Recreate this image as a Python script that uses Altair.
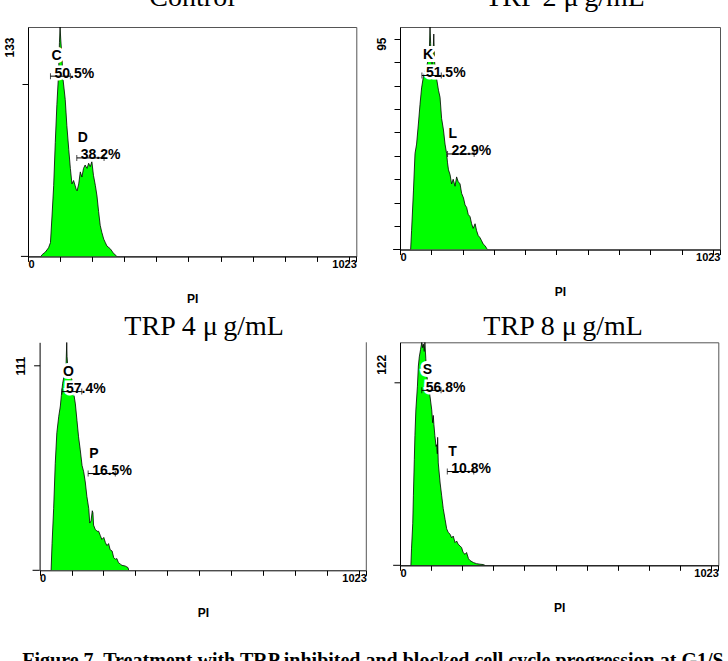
import altair as alt
import pandas as pd

# PI histograms: channel (0-1023) and cell count for each sample
ctrl_ch = [40, 44, 54, 64, 70, 75, 80, 85, 90, 95, 98, 100, 102, 106, 109, 116, 121, 127, 132, 137,
           142, 147, 150, 153, 158, 163, 168, 173, 178, 184, 189, 194, 199, 204, 210, 215, 220, 225, 230, 236,
           241, 246, 256, 262, 267, 272, 276]
ctrl_ct = [0, 1, 2.5, 5, 8, 24, 41, 66, 88, 105, 124, 133, 126, 115, 103, 91, 76, 62, 51, 42,
           44, 41, 39, 38, 42, 49, 46, 51, 53, 51, 54, 52, 55, 47, 41, 35, 26, 18, 14, 10,
           8, 6, 4.5, 3, 1.6, 1, 0]

trp2_ch = [34, 37, 43, 48, 53, 59, 64, 69, 75, 80, 85, 90, 94, 96, 98, 100, 103, 106, 108, 110,
           113, 117, 123, 128, 133, 139, 144, 149, 152, 155, 160, 165, 170, 176, 181, 186, 192, 197, 203, 208,
           213, 218, 224, 229, 234, 240, 245, 250, 256, 261, 266, 272, 277, 280]
trp2_ct = [0, 8, 25, 41, 45, 54, 62, 69, 74, 76, 78, 81, 86, 95, 88, 80, 79, 85, 92, 82,
           75, 73, 68, 65, 56, 51, 45, 41, 37, 34, 32, 28, 30, 27, 31, 29, 28, 24, 22, 19,
           18, 15, 14, 11, 9, 11, 8, 6, 5, 3.7, 2.3, 1.6, 0.5, 0]

trp4_ch = [36, 39, 44, 49, 54, 60, 65, 68, 72, 76, 80, 83, 85, 86, 88, 91, 96, 101, 107, 112,
           117, 122, 127, 133, 138, 143, 148, 154, 157, 161, 165, 167, 169, 174, 180, 185, 190, 195, 201, 206,
           211, 216, 221, 227, 232, 237, 242, 247, 253, 258, 268, 277, 279]
trp4_ct = [0, 13, 30, 52, 67, 75, 80, 85, 91, 94, 96, 101, 111, 104, 100, 97, 95, 93, 86, 81,
           73, 65, 59, 51, 48, 43, 36, 30, 23, 24, 29, 28, 22, 20, 19, 19, 17, 15, 16, 13.5,
           12, 13, 10, 9.4, 6.2, 5.4, 5.7, 3.7, 3, 2.4, 2.1, 1.3, 0]

trp8_ch = [35, 37, 41, 43, 46, 48, 51, 56, 59, 62, 66, 70, 73, 75, 78, 80, 83, 86, 91, 96,
           102, 105, 107, 109, 112, 116, 118, 120, 121, 123, 129, 134, 139, 145, 150, 155, 161, 166, 171, 177,
           182, 187, 193, 198, 203, 209, 214, 220, 225, 236, 246, 257, 268, 273]
trp8_ct = [0, 9, 23, 38, 58, 71, 85, 98, 109, 114, 118, 122, 119, 121, 117, 122, 113, 104, 98, 93,
           85, 78, 82, 77, 71, 65, 66, 61, 70, 56, 45, 38, 31, 25, 20, 18, 17, 15, 16, 12.4,
           13.3, 11.5, 10.6, 9.7, 7, 6, 7, 3.7, 2.6, 1.5, 0.9, 0.6, 0.4, 0]

# y-axis maxima and tick values
y_max = [133, 95, 111, 122]
y_ticks = [[100], [10, 20, 30, 40, 50, 60, 70, 80, 90], [100], [100]]

# x-axis ticks every 100 channels, labelled only at the two ends
x_ticks = [0, 100, 200, 300, 400, 500, 600, 700, 800, 900, 1000, 1023]

# marker regions (same channel ranges in every sample)
gate_lo = [70, 152]
gate_hi = [132, 237]
gate_names = [["C", "D"], ["K", "L"], ["O", "P"], ["S", "T"]]
gate_levels = [[104.5, 57.1], [74.3, 40.8], [87, 47.1], [95.7, 51.3]]
gate_pcts = [["50.5%", "38.2%"], ["51.5%", "22.9%"], ["57.4%", "16.5%"], ["56.8%", "10.8%"]]

titles = ["Control", "TRP 2 \u03bc\u2009g/mL", "TRP 4 \u03bc\u2009g/mL", "TRP 8 \u03bc\u2009g/mL"]
caption = "Figure 7. Treatment with TRP inhibited and blocked cell cycle progression at G1/S phase"

SANS = "Liberation Sans"
SERIF = "Liberation Serif"
GREEN = "#00FF00"
FRAME = "#555555"


def panel(idx, ch, ct, width, height, title_dy, title_dx, label_offset,
          x_range=None, y_axis_offset=None, framed=True):
    ymax = y_max[idx]
    hist = pd.DataFrame({"ch": ch, "ct": ct})
    gates = pd.DataFrame({"name": gate_names[idx], "lo": gate_lo, "hi": gate_hi,
                          "level": gate_levels[idx], "pct": gate_pcts[idx]})
    ends = pd.DataFrame({"ch": gate_lo + gate_hi, "level": gate_levels[idx] * 2})

    xs = {"domain": [0, 1023], "nice": False, "zero": False}
    if x_range:
        xs["range"] = x_range
    xscale = alt.Scale(**xs)
    yscale = alt.Scale(domain=[0, ymax], nice=False, zero=True)

    xaxis = alt.Axis(
        values=x_ticks, tickCount=50,
        labelExpr="datum.value == 0 ? '0' : (datum.value == 1023 ? '1023' : '')",
        labelFlush=True, labelOverlap=False,
        labelFont=SANS, labelFontWeight="bold", labelFontSize=11, labelColor="black",
        labelBaseline="middle", labelPadding=3,
        tickSize=5, tickColor="black", domainColor="black", grid=False,
        titleFont=SANS, titleFontWeight="bold", titleFontSize=12,
        titleColor="black", titleBaseline="middle", titleY=42,
    )
    top_test = f"datum.value == {ymax}"
    yax = dict(
        values=y_ticks[idx] + [ymax], tickCount=50,
        labelExpr=f"{top_test} ? datum.label : ''",
        labelAngle=270, labelAlign="right", labelBaseline="middle",
        labelOffset=label_offset, labelPadding=13, labelOverlap=False,
        labelFont=SANS, labelFontWeight="bold", labelFontSize=12, labelColor="black",
        tickSize=6, tickColor="black",
        tickOpacity={"condition": {"test": top_test, "value": 0}, "value": 1},
        domainColor="black", grid=False,
    )
    if y_axis_offset is not None:
        yax["offset"] = y_axis_offset

    # every layer shares the same scales; the axes are configured on the histogram layer
    def X(field):
        return alt.X(field, scale=xscale, title="PI")

    def Y(field):
        return alt.Y(field, scale=yscale, title=None)

    area = alt.Chart(hist).mark_area(
        color=GREEN, opacity=1, line=alt.OverlayMarkDef(color="black", strokeWidth=0.8), clip=True
    ).encode(
        x=alt.X("ch:Q", scale=xscale, axis=xaxis, title="PI"),
        y=alt.Y("ct:Q", scale=yscale, axis=alt.Axis(**yax), title=None),
    )
    # short stub of the x axis line left of the origin
    stub = alt.Chart(pd.DataFrame({"a": [-22], "b": [0], "y": [0]})).mark_rule(
        color="black", strokeWidth=1
    ).encode(x=X("a:Q"), x2="b:Q", y=Y("y:Q"))

    text_style = dict(font=SANS, fontWeight="bold", fontSize=14, align="left", baseline="alphabetic")
    letter_halo = alt.Chart(gates).mark_text(
        dx=1, dy=-16, color="white", stroke="white", strokeWidth=6, **text_style
    ).encode(x=X("lo:Q"), y=Y("level:Q"), text="name:N")
    pct_halo = alt.Chart(gates).mark_text(
        dx=4, dy=1.5, color="white", stroke="white", strokeWidth=5, **text_style
    ).encode(x=X("lo:Q"), y=Y("level:Q"), text="pct:N")
    rules = alt.Chart(gates).mark_rule(color="black", strokeWidth=1).encode(
        x=X("lo:Q"), x2="hi:Q", y=Y("level:Q"))
    ticks = alt.Chart(ends).mark_tick(orient="vertical", size=6, thickness=1, color="black").encode(
        x=X("ch:Q"), y=Y("level:Q"))
    letters = alt.Chart(gates).mark_text(dx=1, dy=-16, color="black", **text_style).encode(
        x=X("lo:Q"), y=Y("level:Q"), text="name:N")
    pcts = alt.Chart(gates).mark_text(dx=4, dy=1.5, color="black", **text_style).encode(
        x=X("lo:Q"), y=Y("level:Q"), text="pct:N")

    layers = [area, stub, letter_halo, pct_halo, rules, ticks, letters, pcts]
    if not framed:
        border = alt.Chart(pd.DataFrame({"x": [1023], "y0": [0], "y1": [ymax]})).mark_rule(
            color=FRAME, strokeWidth=1
        ).encode(x=X("x:Q"), y=Y("y0:Q"), y2="y1:Q")
        layers.append(border)

    props = dict(
        width=width, height=height,
        title=alt.TitleParams(
            text=titles[idx], font=SERIF, fontSize=28, fontWeight="normal", color="black",
            anchor="middle", frame="group", baseline="alphabetic",
            offset=0, dx=title_dx, dy=title_dy,
        ),
    )
    if not framed:
        props["view"] = alt.ViewBackground(strokeOpacity=0)
    return alt.layer(*layers).properties(**props)


p1 = panel(0, ctrl_ch, ctrl_ct, 328.3, 229.4, title_dy=7.4, title_dx=0, label_offset=10)
p2 = panel(1, trp2_ch, trp2_ct, 320, 222.5, title_dy=7.4, title_dx=5, label_offset=10)
p3 = panel(2, trp4_ch, trp4_ct, 338.3, 228, title_dy=20.7, title_dx=7, label_offset=14,
           x_range=[11.6, 338.3], y_axis_offset=-11.6, framed=False)
p4 = panel(3, trp8_ch, trp8_ct, 318.3, 223, title_dy=20.7, title_dx=4, label_offset=12)

chart = alt.concat(
    p1, p2, p3, p4, columns=2, bounds="flush",
    spacing=alt.RowColnumber(row=85.3, column=33),
).properties(
    title=alt.TitleParams(
        text=caption, orient="bottom", anchor="start", frame="group",
        font=SERIF, fontSize=20, fontWeight="bold", color="black",
        baseline="alphabetic", offset=49, dx=-5.7,
    ),
    padding={"left": 2, "top": -17, "right": -54, "bottom": 0},
).configure_view(stroke=FRAME, strokeWidth=1)

chart.save("out.html", embed_options={"renderer": "svg", "actions": False})
